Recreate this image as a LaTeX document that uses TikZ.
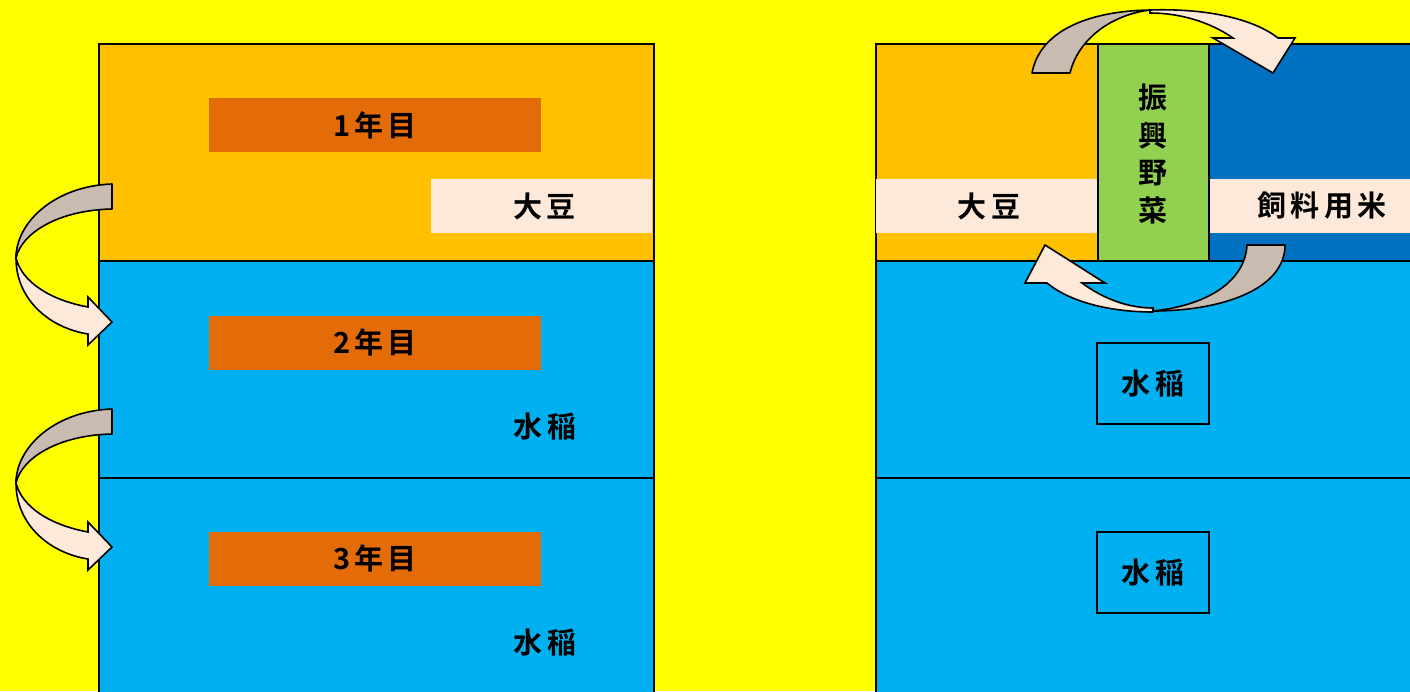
\documentclass[tikz,border=0pt]{standalone}
\usepackage{fontspec}
\newfontfamily\jp{Noto Sans CJK JP Bold}[LetterSpace=14]
\definecolor{bgyel}{HTML}{FFFF00}
\definecolor{orng}{HTML}{FFC000}
\definecolor{skyb}{HTML}{00B0F0}
\definecolor{dorng}{HTML}{E36C09}
\definecolor{pinkb}{HTML}{FDE9D9}
\definecolor{greenb}{HTML}{92D050}
\definecolor{darkb}{HTML}{0070C0}
\definecolor{arrdark}{HTML}{C9BBB0}
\tikzset{
  jtext/.style={font=\jp\fontsize{29}{34}\selectfont, text=black},
  rowbox/.style={draw=black, line width=1.6pt},
  labbox/.style={jtext, fill=dorng, minimum width=332pt, minimum height=54pt, inner sep=0pt},
  bandbox/.style={jtext, fill=pinkb, minimum height=54pt, inner sep=0pt},
  ricebox/.style={jtext, draw=black, line width=1.6pt, minimum width=112pt, minimum height=81pt, inner sep=0pt},
  arrd/.style={fill=arrdark, draw=black, line width=1.6pt, line join=round},
  arrl/.style={fill=pinkb, draw=black, line width=1.6pt, line join=miter},
}
\begin{document}
\begin{tikzpicture}[x=1pt, y=-1pt]
\useasboundingbox (0,0) rectangle (1410,691);
\fill[bgyel] (0,0) rectangle (1410,691);
\clip (0,0) rectangle (1410,691);
% left block
\draw[rowbox, fill=orng] (99,44) rectangle (654,261);
\draw[rowbox, fill=skyb] (99,261) rectangle (654,478);
\draw[rowbox, fill=skyb] (99,478) rectangle (654,705);
\node[labbox] (y1) at (375,125) {1\,年目};
\node[labbox] (y2) at (375,342.5) {2\,年目};
\node[labbox] (y3) at (375,558.5) {3\,年目};
\node[bandbox, minimum width=221pt] (soyL) at (541.5,206) {\hspace{6pt}大豆};
\node[jtext] (riceL1) at (545,427) {水稲};
\node[jtext] (riceL2) at (545,643) {水稲};
% right block
\draw[rowbox, fill=orng] (876,44) rectangle (1098,261);
\fill[darkb] (1209,44) rectangle (1425,261);
\draw[rowbox] (876,44) rectangle (1425,261);
\draw[rowbox, fill=skyb] (876,261) rectangle (1425,478);
\draw[rowbox, fill=skyb] (876,478) rectangle (1425,705);
\node[bandbox, minimum width=222pt] (soyR) at (987,206) {\hspace{4pt}大豆};
\node[bandbox, minimum width=222pt] (feed) at (1320,206) {\hspace{4pt}飼料用米};
\draw[rowbox, fill=greenb] (1098,44) rectangle (1209,261);
\node[jtext, align=center, font=\jp\fontsize{29}{37.7}\selectfont] (veg) at (1153,154) {振\\興\\野\\菜};
\node[ricebox] (riceR1) at (1153,383.5) {水稲};
\node[ricebox] (riceR2) at (1153,572.5) {水稲};
% left curved arrows
\foreach \dy in {0,225}{
\begin{scope}[shift={(0,\dy)}]
\draw[arrd] (112,184) .. controls (55,186) and (16,222) .. (16,258)
  .. controls (22,232) and (60,210) .. (112,209) -- cycle;
\draw[arrl] (16,258) .. controls (16,300) and (50,328) .. (88,334)
  -- (88,345) -- (112,322) -- (88,297) -- (88,307)
  .. controls (50,300) and (22,282) .. (16,258) -- cycle;
\end{scope}
}
% top right arrow
\draw[arrd] (1032,73) .. controls (1040,30) and (1090,11) .. (1150,10)
  .. controls (1110,15) and (1078,40) .. (1070,73) -- cycle;
\draw[arrl] (1150,10) .. controls (1210,8) and (1255,20) .. (1278,38)
  -- (1295,38) -- (1273,73) -- (1213,38) -- (1233,38)
  .. controls (1210,22) and (1180,13) .. (1150,13) -- cycle;
% bottom right arrow
\draw[arrd] (1285,245) .. controls (1285,290) and (1220,311) .. (1153,311)
  .. controls (1210,305) and (1245,280) .. (1247,245) -- cycle;
\draw[arrl] (1153,312) .. controls (1110,312) and (1070,302) .. (1047,283)
  -- (1025,283) -- (1045,245) -- (1105,283) -- (1082,283)
  .. controls (1105,300) and (1130,308) .. (1153,308) -- cycle;
\end{tikzpicture}
\end{document}
